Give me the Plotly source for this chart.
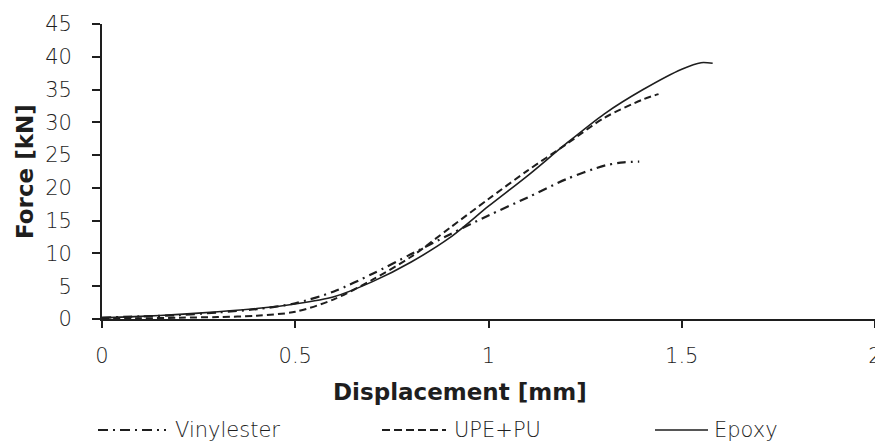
import plotly.graph_objects as go

# Load-displacement curves for three resin systems
disp_vinyl = [0, 0.1, 0.2, 0.3, 0.4, 0.5, 0.6, 0.7, 0.8, 0.9, 1.0, 1.1, 1.2, 1.3, 1.35, 1.39]
force_vinyl = [0.2, 0.4, 0.6, 1.0, 1.5, 2.4, 4.2, 6.9, 9.9, 12.9, 15.8, 18.5, 21.3, 23.4, 23.9, 24.0]

disp_upe = [0, 0.1, 0.2, 0.3, 0.4, 0.5, 0.6, 0.7, 0.8, 0.9, 1.0, 1.1, 1.2, 1.3, 1.4, 1.44]
force_upe = [0.1, 0.1, 0.2, 0.3, 0.5, 1.1, 3.0, 6.0, 9.5, 13.9, 18.3, 22.6, 26.6, 30.7, 33.5, 34.3]

disp_epoxy = [0, 0.1, 0.2, 0.3, 0.4, 0.5, 0.6, 0.7, 0.8, 0.9, 1.0, 1.1, 1.2, 1.3, 1.4, 1.5, 1.55, 1.58]
force_epoxy = [0.2, 0.4, 0.7, 1.1, 1.6, 2.3, 3.4, 5.7, 8.7, 12.4, 17.2, 21.8, 26.7, 31.3, 35.0, 38.1, 39.1, 39.0]

series_names = ["Vinylester", "UPE+PU", "Epoxy"]
x_title = "Displacement [mm]"
y_title = "Force [kN]"

INK = "#1e1e1e"
TXT = "#1e1e1e"
FONT = "DejaVu Sans"

W, H = 875, 443
ML, MR, MT, MB = 102, 0, 24, 124
PW, PH = W - ML - MR, H - MT - MB

def px_x(p):
    return (p - ML) / PW

def px_y(p):
    return (H - MB - p) / PH

styles = [
    dict(dash="9px,5px,2px,5px", width=2.2),
    dict(dash="7px,4px", width=2.0),
    dict(dash="solid", width=1.6),
]

fig = go.Figure()
for (xs, ys), st, name in zip(
    [(disp_vinyl, force_vinyl), (disp_upe, force_upe), (disp_epoxy, force_epoxy)],
    styles, series_names,
):
    fig.add_trace(go.Scatter(
        x=xs, y=ys, mode="lines", name=name, showlegend=False,
        line=dict(color=INK, width=st["width"], dash=st["dash"],
                  shape="spline", smoothing=0.8),
    ))

tickfont = dict(family=FONT, size=21, color=TXT, weight=300)

fig.update_layout(
    template="none",
    width=W, height=H,
    margin=dict(l=ML, r=MR, t=MT, b=MB, pad=0),
    paper_bgcolor="white", plot_bgcolor="white",
    font=dict(family=FONT, color=INK, size=20),
    xaxis=dict(
        range=[0, 2], dtick=0.5, tick0=0, showgrid=False, zeroline=False,
        showline=True, linecolor=INK, linewidth=2.2,
        ticks="outside", ticklen=7, tickwidth=1.5, tickcolor=INK,
        ticklabelstandoff=10, automargin=False, ticklabeloverflow="allow",
        tickfont=tickfont,
    ),
    yaxis=dict(
        range=[0, 45], dtick=5, tick0=0, showgrid=False, zeroline=False,
        showline=True, linecolor=INK, linewidth=1.8,
        ticks="outside", ticklen=8, tickwidth=1.5, tickcolor=INK,
        ticklabelstandoff=16, automargin=False,
        tickfont=tickfont,
    ),
    showlegend=False,
)

# Axis titles
fig.add_annotation(
    x=px_x(460), y=px_y(392), xref="paper", yref="paper",
    text="<b>" + x_title + "</b>", showarrow=False,
    font=dict(family=FONT, size=23, color=INK),
    xanchor="center", yanchor="middle", borderpad=0,
)
fig.add_annotation(
    x=px_x(25), y=px_y(172), xref="paper", yref="paper",
    text="<b>" + y_title + "</b>", showarrow=False, textangle=-90,
    font=dict(family=FONT, size=23, color=INK),
    xanchor="center", yanchor="middle", borderpad=0,
)

# Legend drawn below the axis title
legend_y = 430
legend_items = [(98, 166, 174), (382, 446, 453), (655, 708, 713)]
legend_dash = ["10px,5px,2px,5px", "8px,4px", "solid"]
for (x0, x1, xt), dash, name, st in zip(legend_items, legend_dash, series_names, styles):
    fig.add_shape(
        type="line", xref="paper", yref="paper",
        x0=px_x(x0), x1=px_x(x1), y0=px_y(legend_y), y1=px_y(legend_y),
        line=dict(color=INK, width=st["width"], dash=dash),
    )
    fig.add_annotation(
        x=px_x(xt), y=px_y(legend_y), xref="paper", yref="paper",
        text=name, showarrow=False,
        font=dict(family=FONT, size=21, color=TXT, weight=300),
        xanchor="left", yanchor="middle", borderpad=0,
    )

fig.write_html("out.html")
